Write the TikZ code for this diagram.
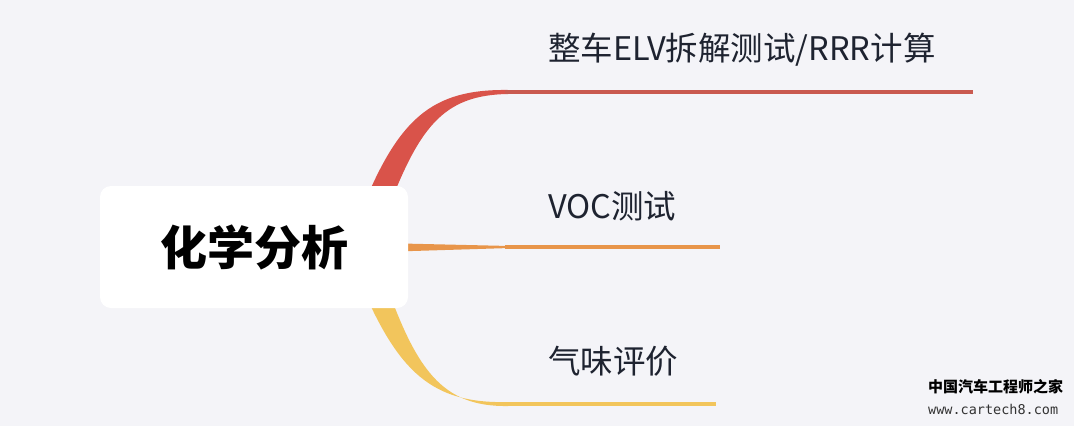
\documentclass[tikz,border=0pt]{standalone}
\usepackage{fontspec}
\setmainfont{Noto Sans CJK SC}
\newfontfamily\wmfont{Noto Sans CJK SC}
\newfontfamily\wmmono{DejaVu Sans Mono}
\definecolor{bg}{HTML}{F4F4F8}
\definecolor{cred}{HTML}{D9534A}
\definecolor{credl}{HTML}{C95A50}
\definecolor{corange}{HTML}{E8954A}
\definecolor{cyellow}{HTML}{F2C55C}
\definecolor{txt}{HTML}{1E2330}
\tikzset{
  lbl/.style={anchor=west, inner sep=0pt, text=txt, font=\fontsize{32.5}{32.5}\selectfont},
  hline/.style={line width=4pt},
  rootbox/.style={fill=white, rounded corners=11pt, minimum width=308pt, minimum height=122pt, inner sep=0pt, font=\fontsize{47}{47}\selectfont\bfseries}
}
\begin{document}
\begin{tikzpicture}[x=1pt,y=-1pt]
\useasboundingbox (0,0) rectangle (1074,426);
\fill[bg] (0,0) rectangle (1074,426);
% red branch
\fill[cred] (360,214) .. controls (398,118) and (432,89) .. (508,90)
  -- (508,94) .. controls (442,95) and (418,128) .. (384,220) -- cycle;
% orange branch
\fill[corange] (380,243) -- (510,246) -- (510,248) -- (380,252) -- cycle;
% yellow branch
\fill[cyellow] (360,282) .. controls (398,372) and (432,404) .. (508,402)
  -- (508,406) .. controls (442,407) and (416,370) .. (384,278) -- cycle;
\coordinate (r0) at (505,92);
\coordinate (r1) at (973,92);
\coordinate (o0) at (505,247);
\coordinate (o1) at (720,247);
\coordinate (y0) at (505,404);
\coordinate (y1) at (716,404);
\draw[hline, credl] (r0) -- (r1);
\draw[hline, corange, line width=3.5pt] (o0) -- (o1);
\draw[hline, cyellow] (y0) -- (y1);
\node[rootbox] (c) at (254,247) {化学分析};
\node[lbl] (t1) at (548,50) {整车ELV拆解测试/RRR计算};
\node[lbl] (t2) at (548,206) {VOC测试};
\node[lbl] (t3) at (548,361) {气味评价};
\node[anchor=west, inner sep=0pt, font=\wmfont\bfseries\fontsize{15}{15}\selectfont] (w1) at (928,387) {中国汽车工程师之家};
\node[anchor=west, inner sep=0pt, font=\wmmono\fontsize{13.5}{13.5}\selectfont, text=black!80] (w2) at (928,409) {www.cartech8.com};
\end{tikzpicture}
\end{document}
